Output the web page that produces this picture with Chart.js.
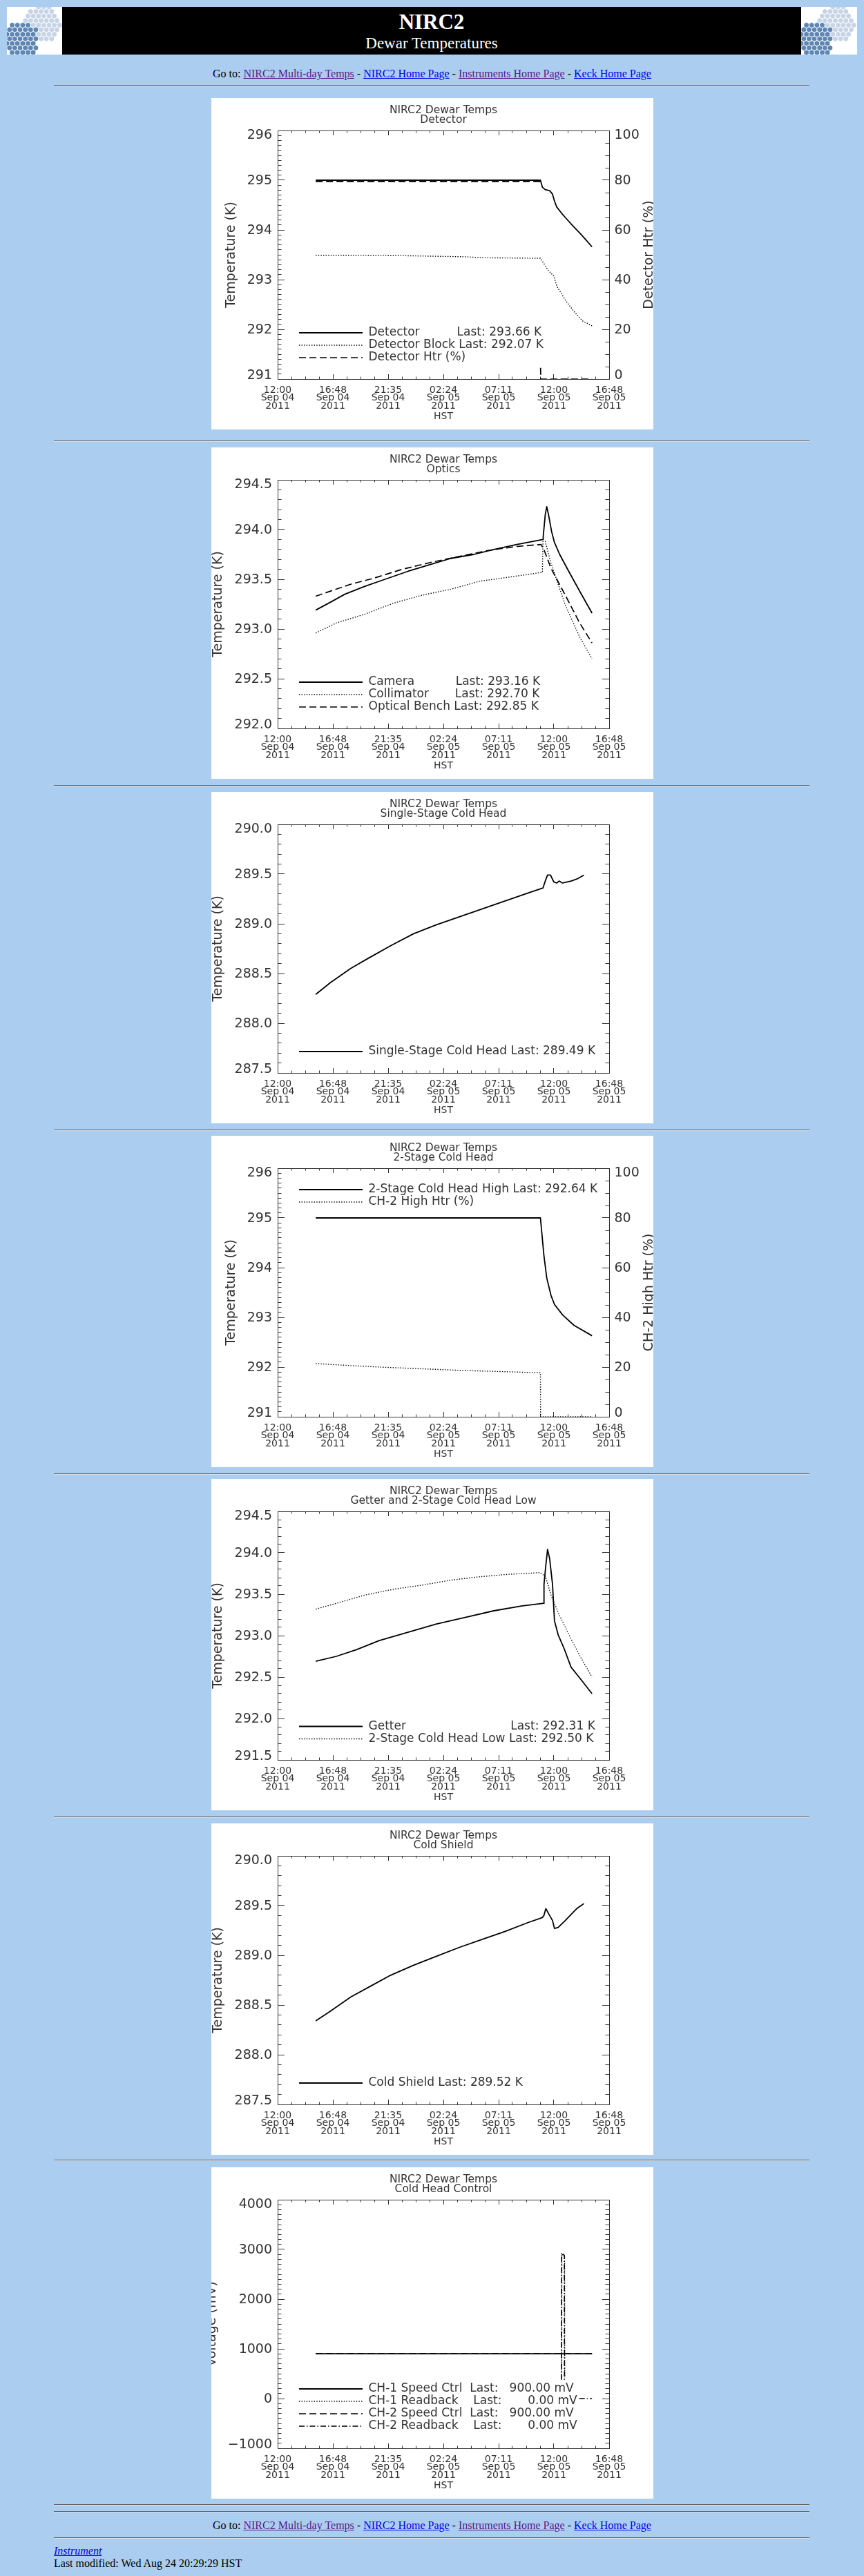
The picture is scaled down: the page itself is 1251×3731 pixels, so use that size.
<!DOCTYPE html>
<html><head><meta charset="utf-8"><title>NIRC2 Dewar Temperatures</title>
<script src="https://cdn.jsdelivr.net/npm/chart.js@4.4.1/dist/chart.umd.min.js"></script>
<style>
html,body{margin:0;padding:0;}
body{background:#abcdef;width:1251px;height:3731px;position:relative;overflow:hidden;font-family:'Liberation Serif','Times New Roman',serif;font-size:16px;color:#000;}
#banner{position:absolute;left:10px;top:10px;width:1231px;height:69px;background:#000;}
.logo{position:absolute;top:0;height:69px;background:#fff;overflow:hidden;}
#logoL{left:0;width:80px;}
#logoR{left:1150px;width:81px;}
.bt{position:absolute;left:80px;width:1070px;text-align:center;color:#fff;white-space:nowrap;}
#t1{top:6px;font-size:31px;line-height:31px;font-weight:bold;}
#t2{top:41px;font-size:23px;line-height:23px;}
.goto{position:absolute;left:8px;width:1235px;text-align:center;line-height:18px;white-space:nowrap;}
a{color:#0000ee;text-decoration:underline;}
a.v{color:#551a8b;}
.rule{position:absolute;left:78px;width:1094px;height:0;border-top:1px solid #5f5f5f;border-bottom:1px solid #d4e2ef;}
canvas.plot{position:absolute;left:306px;width:640px;height:480px;background:#fff;}
.foot{position:absolute;left:78px;line-height:18px;white-space:nowrap;}
</style></head>
<body>
<div id="banner">
  <div class="logo" id="logoL"></div>
  <div class="bt" id="t1">NIRC2</div>
  <div class="bt" id="t2">Dewar Temperatures</div>
  <div class="logo" id="logoR"></div>
</div>
<div class="goto" style="top:98px">Go to: <a class="v" href="#">NIRC2 Multi-day Temps</a> - <a href="#">NIRC2 Home Page</a> - <a class="v" href="#">Instruments Home Page</a> - <a href="#">Keck Home Page</a></div>
<div class="rule" style="top:123px"></div>

<canvas class="plot" id="c1" width="640" height="480" style="top:142px"></canvas>
<div class="rule" style="top:638px"></div>
<canvas class="plot" id="c2" width="640" height="480" style="top:648px"></canvas>
<div class="rule" style="top:1137px"></div>
<canvas class="plot" id="c3" width="640" height="480" style="top:1147px"></canvas>
<div class="rule" style="top:1636px"></div>
<canvas class="plot" id="c4" width="640" height="480" style="top:1645px"></canvas>
<div class="rule" style="top:2134px"></div>
<canvas class="plot" id="c5" width="640" height="480" style="top:2142px"></canvas>
<div class="rule" style="top:2631px"></div>
<canvas class="plot" id="c6" width="640" height="480" style="top:2641px"></canvas>
<div class="rule" style="top:3128px"></div>
<canvas class="plot" id="c7" width="640" height="480" style="top:3139px"></canvas>
<div class="rule" style="top:3627px"></div>
<div class="rule" style="top:3637px"></div>
<div class="goto" style="top:3649px">Go to: <a class="v" href="#">NIRC2 Multi-day Temps</a> - <a href="#">NIRC2 Home Page</a> - <a class="v" href="#">Instruments Home Page</a> - <a href="#">Keck Home Page</a></div>
<div class="rule" style="top:3675px"></div>
<div class="foot" style="top:3686px"><i><a href="#">Instrument</a></i></div>
<div class="foot" style="top:3704px">Last modified: Wed Aug 24 20:29:29 HST</div>

<script>
// ---------- axis tick labels ----------
const xTickLabels = [
  ['12:00','Sep 04','2011'], ['16:48','Sep 04','2011'], ['21:35','Sep 04','2011'],
  ['02:24','Sep 05','2011'], ['07:11','Sep 05','2011'], ['12:00','Sep 05','2011'], ['16:48','Sep 05','2011']
];
const detTempTicks  = ['291','292','293','294','295','296'];
const htrPctTicks   = ['0','20','40','60','80','100'];
const opticsTicks   = ['292.0','292.5','293.0','293.5','294.0','294.5'];
const coldHeadTicks = ['287.5','288.0','288.5','289.0','289.5','290.0'];
const getterTicks   = ['291.5','292.0','292.5','293.0','293.5','294.0','294.5'];
const voltTicks     = ['\u22121000','0','1000','2000','3000','4000'];

// ---------- series (x = hours since Sep 04 12:00 HST) ----------
// 1. Detector
const detectorHrs = [3.31, 22.83, 23.00, 23.25, 23.63, 23.88, 24.05, 24.25, 24.62, 24.99, 25.62, 26.24, 26.74, 27.31];
const detectorK   = [295.00, 295.00, 294.86, 294.81, 294.79, 294.72, 294.58, 294.46, 294.35, 294.25, 294.09, 293.94, 293.81, 293.66];
const detBlockHrs = [3.31, 6.34, 11.32, 16.29, 17.78, 22.76, 22.83, 23.50, 24.00, 24.25, 24.99, 25.74, 26.49, 27.31];
const detBlockK   = [293.49, 293.49, 293.48, 293.46, 293.44, 293.43, 293.43, 293.19, 293.07, 292.87, 292.59, 292.36, 292.17, 292.07];
const detHtrHrs   = [3.31, 22.80, 22.82, 22.84, 22.86, 27.31];
const detHtrPct   = [79.5, 79.5, null, 4.5, 0, 0];
// 2. Optics
const cameraHrs = [3.31, 4.60, 5.84, 7.59, 9.33, 11.32, 13.31, 15.05, 17.04, 18.78, 20.77, 23.05, 23.07, 23.25, 23.38, 23.55, 23.80, 24.05, 24.50, 25.24, 26.24, 27.31];
const cameraK   = [293.19, 293.27, 293.35, 293.43, 293.50, 293.58, 293.65, 293.71, 293.75, 293.80, 293.85, 293.90, 293.93, 294.15, 294.23, 294.14, 293.98, 293.87, 293.75, 293.59, 293.38, 293.16];
const collimHrs = [3.31, 5.10, 7.59, 10.07, 12.56, 15.05, 17.53, 20.02, 23.00, 23.05, 23.25, 23.75, 24.99, 26.24, 27.31];
const collimK   = [292.96, 293.06, 293.15, 293.26, 293.34, 293.40, 293.48, 293.52, 293.57, 293.88, 293.88, 293.66, 293.24, 292.92, 292.70];
const benchHrs  = [3.31, 6.34, 8.33, 10.82, 13.31, 15.79, 18.28, 20.77, 22.88, 23.13, 23.75, 24.99, 26.24, 27.31];
const benchK    = [293.33, 293.45, 293.51, 293.60, 293.67, 293.73, 293.79, 293.83, 293.85, 293.80, 293.61, 293.34, 293.06, 292.86];
// 3. Single-stage cold head
const sshHrs = [3.31, 4.60, 6.34, 7.83, 9.82, 11.81, 13.80, 15.79, 17.78, 19.77, 21.76, 23.05, 23.25, 23.45, 23.70, 24.00, 24.25, 24.45, 24.75, 25.49, 25.99, 26.61];
const sshK   = [288.29, 288.41, 288.55, 288.65, 288.78, 288.90, 288.99, 289.07, 289.15, 289.23, 289.31, 289.36, 289.43, 289.49, 289.49, 289.42, 289.41, 289.43, 289.41, 289.43, 289.45, 289.49];
// 4. 2-stage cold head high
const ch2HighHrs = [3.31, 22.83, 23.13, 23.38, 23.75, 24.05, 24.75, 25.74, 27.31];
const ch2HighK   = [295.00, 295.00, 294.25, 293.79, 293.44, 293.26, 293.05, 292.84, 292.63];
const ch2HtrHrs  = [3.31, 6.34, 9.33, 12.56, 16.29, 20.02, 22.76, 22.83, 22.84, 27.31];
const ch2HtrPct  = [21.4, 20.6, 19.9, 19.3, 18.6, 18.1, 17.7, 17.7, 0, 0];
// 5. Getter and 2-stage cold head low
const getterHrs = [3.31, 5.10, 6.84, 8.83, 11.32, 13.80, 16.29, 18.78, 21.26, 23.13, 23.14, 23.30, 23.45, 23.63, 23.88, 24.05, 24.37, 24.87, 25.49, 26.24, 27.31];
const getterK   = [292.69, 292.75, 292.83, 292.94, 293.04, 293.14, 293.22, 293.30, 293.36, 293.39, 293.62, 293.85, 294.04, 293.93, 293.62, 293.18, 293.01, 292.85, 292.62, 292.49, 292.30];
const ch2LowHrs = [3.31, 5.10, 7.59, 10.07, 12.56, 15.05, 17.53, 20.02, 22.76, 23.25, 23.75, 24.50, 25.49, 26.24, 27.31];
const ch2LowK   = [293.32, 293.39, 293.49, 293.56, 293.61, 293.67, 293.71, 293.74, 293.76, 293.72, 293.49, 293.24, 292.96, 292.76, 292.50];
// 6. Cold shield
const shieldHrs = [3.31, 4.60, 6.34, 8.08, 9.82, 11.81, 13.80, 15.79, 17.78, 19.77, 21.76, 23.00, 23.13, 23.30, 23.63, 23.88, 24.05, 24.37, 24.99, 25.49, 25.99, 26.36, 26.61];
const shieldK   = [288.34, 288.44, 288.58, 288.69, 288.80, 288.90, 288.99, 289.08, 289.16, 289.24, 289.33, 289.38, 289.40, 289.47, 289.40, 289.35, 289.27, 289.28, 289.35, 289.41, 289.47, 289.50, 289.52];
// 7. Cold head control (mV)
const ch1SpeedHrs = [3.31, 27.31];
const ch1SpeedMv  = [900, 900];
const ch1ReadHrs  = [24.68, 24.69, 24.93, 24.94];
const ch1ReadMv   = [420, 2910, 2860, 420];
const ch2SpeedHrs = [3.31, 27.31];
const ch2SpeedMv  = [900, 900];
const ch2ReadHrs  = [24.66, 24.67, 24.91, 24.92, 25.00, 26.20, 27.31];
const ch2ReadMv   = [380, 2930, 2880, 380, null, 0, 0];

// ---------- styling ----------
const FONT = "'DejaVu Sans', Verdana, sans-serif";
const TXT = '#333';
const AX = '#333';
const STYLES = {
  solid:   { borderColor: '#000', borderWidth: 1.8, borderDash: [] },
  dotted:  { borderColor: '#000', borderWidth: 1.4, borderDash: [1.4, 2.2] },
  dashed:  { borderColor: '#000', borderWidth: 1.7, borderDash: [10, 5] },
  dashdot: { borderColor: '#000', borderWidth: 1.6, borderDash: [8, 3, 1.5, 3] }
};
Chart.defaults.font.family = FONT;

function series(label, xs, ys, style, yAxis) {
  return Object.assign({
    label: label,
    data: xs.map((x, i) => ({ x: x, y: ys[i] })),
    xAxisID: 'x', yAxisID: yAxis || 'y',
    pointRadius: 0, pointHoverRadius: 0, fill: false, spanGaps: false, tension: 0,
    borderCapStyle: 'butt', borderJoinStyle: 'round'
  }, STYLES[style]);
}

function tickFont(size, min, max) {
  return (c) => {
    const v = c.tick ? c.tick.value : NaN;
    const end = Math.abs(v - min) < 1e-9 || Math.abs(v - max) < 1e-9;
    return { family: FONT, size: size, lineHeight: end ? '12px' : 1.2 };
  };
}
function tickLabels(labels, min, max, step) {
  return (v) => {
    const s = labels[Math.round((v - min) / step)];
    if (s === undefined) return '';
    if (Math.abs(v - max) < 1e-9) return ['', s];
    if (Math.abs(v - min) < 1e-9) return [s, ''];
    return s;
  };
}

function axis(pos, weight, size, min, max, step, tl, border) {
  const horiz = pos === 'top' || pos === 'bottom';
  return {
    type: 'linear', position: pos, weight: weight, display: true, min: min, max: max, offset: false,
    grid: { display: true, drawOnChartArea: false, drawTicks: true, tickLength: tl, color: AX, tickColor: AX, lineWidth: 1, tickWidth: 1 },
    border: { display: border, color: AX, width: 1 },
    ticks: { display: false, autoSkip: false, stepSize: step, maxRotation: 0, minRotation: 0 },
    title: { display: false },
    afterFit: (s) => { if (horiz) s.height = size; else s.width = size; }
  };
}

const legendPlace = {
  id: 'legendPlace',
  afterLayout(chart, args, opts) {
    const lg = chart.legend;
    if (!lg) return;
    lg.left = opts.left; lg.top = opts.top;
    lg.right = chart.width; lg.bottom = chart.height;
    lg.width = lg.right - lg.left; lg.height = lg.bottom - lg.top;
  }
};

function makeChart(id, spec) {
  const L = spec.left, R = spec.right;
  const scales = {
    x:   axis('bottom', 1, 73, 0, 28.8, 4.8, -7, true),
    xm:  axis('bottom', 0, 0, 0, 28.8, 1.2, -3.5, false),
    xt:  axis('top', 1, 8, 0, 28.8, 4.8, -7, true),
    xtm: axis('top', 0, 0, 0, 28.8, 1.2, -3.5, false),
    y:   axis('left', 1, 96, L.min, L.max, L.step, -10, true),
    ym:  axis('left', 0, 0, L.min, L.max, L.minor, -5.5, false),
    yr:  axis('right', 1, 64, R ? R.min : L.min, R ? R.max : L.max, R ? R.step : L.step, -10, true),
    yrm: axis('right', 0, 0, R ? R.min : L.min, R ? R.max : L.max, R ? R.minor : L.minor, -5.5, false)
  };
  Object.assign(scales.x.ticks, {
    display: true, padding: 17.25, color: TXT,
    font: { family: FONT, size: 14, lineHeight: '11.5px' },
    callback: (v) => xTickLabels[Math.round(v / 4.8)] || ''
  });
  scales.x.title = { display: true, text: 'HST', color: TXT, font: { family: FONT, size: 14 }, padding: { top: 0, bottom: 10.6 } };
  Object.assign(scales.y.ticks, {
    display: true, padding: 18, labelOffset: 1, color: TXT,
    font: tickFont(19, L.min, L.max),
    callback: tickLabels(L.labels, L.min, L.max, L.step)
  });
  scales.y.title = { display: true, text: L.title, color: TXT, font: { family: FONT, size: 19, lineHeight: 1 }, padding: { top: L.titleCenter - 9.5, bottom: 0 } };
  if (R) {
    Object.assign(scales.yr.ticks, {
      display: true, padding: 17.5, labelOffset: 1, color: TXT,
      font: tickFont(19, R.min, R.max),
      callback: tickLabels(R.labels, R.min, R.max, R.step)
    });
    scales.yt = {
      type: 'linear', position: 'left', weight: -1, display: true, min: 0, max: 1,
      grid: { display: false }, border: { display: false }, ticks: { display: false },
      title: { display: true, text: R.title, color: TXT, font: { family: FONT, size: 19, lineHeight: 1 }, padding: { top: 634 - 96 - 9.5, bottom: 0 } },
      afterFit: (s) => { s.width = 0; }
    };
  }
  return new Chart(document.getElementById(id), {
    type: 'line',
    data: { datasets: spec.datasets },
    options: {
      responsive: false, maintainAspectRatio: false, animation: false, devicePixelRatio: 1,
      events: [],
      layout: { padding: 0 },
      scales: scales,
      plugins: {
        title: {
          display: true, fullSize: false, text: ['NIRC2 Dewar Temps', spec.sub], color: TXT,
          font: { family: FONT, size: 15.5, weight: 'normal', lineHeight: '14px' },
          padding: { top: 11, bottom: 0 }
        },
        legend: {
          display: true, position: 'chartArea', align: 'start',
          labels: {
            usePointStyle: true, pointStyle: 'line', pointStyleWidth: 92, padding: 1, color: TXT,
            font: { family: FONT, size: 17 },
            generateLabels: (chart) => chart.data.datasets.map((d, i) => ({
              text: d.label, fillStyle: 'rgba(0,0,0,0)', strokeStyle: d.borderColor,
              lineWidth: d.borderWidth, lineDash: d.borderDash, lineCap: 'butt', lineJoin: 'miter',
              pointStyle: 'line', rotation: 0, hidden: false, datasetIndex: i, fontColor: TXT
            }))
          }
        },
        tooltip: { enabled: false },
        legendPlace: { left: 126, top: spec.legendRow - 9.5 }
      }
    },
    plugins: [legendPlace]
  });
}

// ---------- charts ----------
makeChart('c1', {
  sub: 'Detector',
  left: { min: 291, max: 296, step: 1, minor: 0.1, labels: detTempTicks, title: 'Temperature (K)', titleCenter: 29 },
  right: { min: 0, max: 100, step: 20, minor: 5, labels: htrPctTicks, title: 'Detector Htr (%)' },
  legendRow: 340,
  datasets: [
    series('Detector          Last: 293.66 K', detectorHrs, detectorK, 'solid'),
    series('Detector Block Last: 292.07 K', detBlockHrs, detBlockK, 'dotted'),
    series('Detector Htr (%)', detHtrHrs, detHtrPct, 'dashed', 'yr')
  ]
});
makeChart('c2', {
  sub: 'Optics',
  left: { min: 292, max: 294.5, step: 0.5, minor: 0.1, labels: opticsTicks, title: 'Temperature (K)', titleCenter: 10 },
  right: null,
  legendRow: 340,
  datasets: [
    series('Camera           Last: 293.16 K', cameraHrs, cameraK, 'solid'),
    series('Collimator       Last: 292.70 K', collimHrs, collimK, 'dotted'),
    series('Optical Bench Last: 292.85 K', benchHrs, benchK, 'dashed')
  ]
});
makeChart('c3', {
  sub: 'Single-Stage Cold Head',
  left: { min: 287.5, max: 290, step: 0.5, minor: 0.1, labels: coldHeadTicks, title: 'Temperature (K)', titleCenter: 10 },
  right: null,
  legendRow: 376,
  datasets: [
    series('Single-Stage Cold Head Last: 289.49 K', sshHrs, sshK, 'solid')
  ]
});
makeChart('c4', {
  sub: '2-Stage Cold Head',
  left: { min: 291, max: 296, step: 1, minor: 0.1, labels: detTempTicks, title: 'Temperature (K)', titleCenter: 29 },
  right: { min: 0, max: 100, step: 20, minor: 5, labels: htrPctTicks, title: 'CH-2 High Htr (%)' },
  legendRow: 78,
  datasets: [
    series('2-Stage Cold Head High Last: 292.64 K', ch2HighHrs, ch2HighK, 'solid'),
    series('CH-2 High Htr (%)', ch2HtrHrs, ch2HtrPct, 'dotted', 'yr')
  ]
});
makeChart('c5', {
  sub: 'Getter and 2-Stage Cold Head Low',
  left: { min: 291.5, max: 294.5, step: 0.5, minor: 0.1, labels: getterTicks, title: 'Temperature (K)', titleCenter: 10 },
  right: null,
  legendRow: 358.5,
  datasets: [
    series('Getter                            Last: 292.31 K', getterHrs, getterK, 'solid'),
    series('2-Stage Cold Head Low Last: 292.50 K', ch2LowHrs, ch2LowK, 'dotted')
  ]
});
makeChart('c6', {
  sub: 'Cold Shield',
  left: { min: 287.5, max: 290, step: 0.5, minor: 0.1, labels: coldHeadTicks, title: 'Temperature (K)', titleCenter: 10 },
  right: null,
  legendRow: 376,
  datasets: [
    series('Cold Shield Last: 289.52 K', shieldHrs, shieldK, 'solid')
  ]
});
makeChart('c7', {
  sub: 'Cold Head Control',
  left: { min: -1000, max: 4000, step: 1000, minor: 100, labels: voltTicks, title: 'Voltage (mV)', titleCenter: 1.5 },
  right: null,
  legendRow: 321,
  datasets: [
    series('CH-1 Speed Ctrl  Last:   900.00 mV', ch1SpeedHrs, ch1SpeedMv, 'solid'),
    series('CH-1 Readback    Last:       0.00 mV', ch1ReadHrs, ch1ReadMv, 'dotted'),
    series('CH-2 Speed Ctrl  Last:   900.00 mV', ch2SpeedHrs, ch2SpeedMv, 'dashed'),
    series('CH-2 Readback    Last:       0.00 mV', ch2ReadHrs, ch2ReadMv, 'dashdot')
  ]
});

// ---------- Keck hexagon logos (decoration) ----------
function logo(div) {
  const w = div.clientWidth, h = 69, r = 4.4;
  const dx = r * Math.sqrt(3), dy = r * 1.5;
  let s = '<svg xmlns="http://www.w3.org/2000/svg" width="' + w + '" height="' + h + '">';
  for (let row = -1; row * dy < h + r; row++) {
    for (let c = -1; c * dx < w + r; c++) {
      const cx = c * dx + (row % 2 ? dx / 2 : 0), cy = row * dy;
      const dark = Math.pow((cx - 22) / 24, 2) + Math.pow((cy - 47) / 26, 2) < 1;
      const light = Math.pow((cx - 51) / 27, 2) + Math.pow((cy - 24) / 27, 2) < 1;
      const fill = dark ? '#5e86b4' : (light ? '#c6d4e6' : null);
      if (!fill) continue;
      let pts = [];
      for (let k = 0; k < 6; k++) {
        const a = Math.PI / 180 * (60 * k + 30);
        pts.push((cx + (r - 0.6) * Math.cos(a)).toFixed(1) + ',' + (cy + (r - 0.6) * Math.sin(a)).toFixed(1));
      }
      s += '<polygon points="' + pts.join(' ') + '" fill="' + fill + '"/>';
    }
  }
  div.innerHTML = s + '</svg>';
}
logo(document.getElementById('logoL'));
logo(document.getElementById('logoR'));
</script>
</body></html>
